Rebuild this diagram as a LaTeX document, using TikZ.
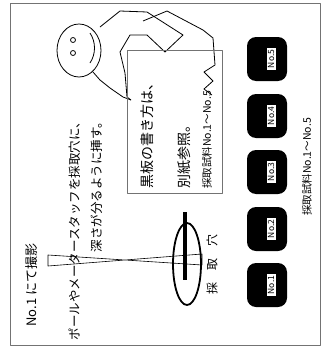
\documentclass[tikz,border=0pt]{standalone}
\usepackage{fontspec}
\setmainfont{Noto Sans CJK JP}

\tikzset{
    vtext/.style={rotate=90, inner sep=0pt},
    bottle/.style={rectangle, rounded corners=9pt, fill=black, minimum width=40pt, minimum height=44pt},
    tag/.style={rectangle, fill=white, rotate=90, inner xsep=2pt, inner ysep=1pt, minimum height=9pt, minimum width=22pt, font=\fontsize{8.5}{9}\selectfont},
    thin gray/.style={draw=black!55, line width=0.6pt},
}

\begin{document}
\begin{tikzpicture}[x=1pt, y=-1pt, line join=round]
    \useasboundingbox (0,0) rectangle (324,351);
    \draw[thin gray] (10,3) rectangle (320,345);

    \node[vtext, font=\fontsize{13}{15}\selectfont] (title) at (32,285) {No.1 にて撮影};
    \node[vtext, anchor=east, font=\fontsize{12.5}{14}\selectfont] (note1) at (75,116) {ポールやメータースタッフを採取穴に、};
    \node[vtext, anchor=east, font=\fontsize{12.5}{14}\selectfont] (note2) at (97,116) {深さが分るように挿す。};

    % pole, hole and rod
    \draw[line width=0.6pt] (48,255) -- (202,265) -- (202,254) -- (48,266) -- cycle;
    \draw[line width=1.8pt] (187,264) ellipse [x radius=14, y radius=41];
    \draw[line width=3.5pt] (185,212) -- (185,280);
    \node[vtext, font=\fontsize{12}{14}\selectfont] (hole) at (212,264) {採　取　穴};

    % person holding the board
    \draw[line width=0.8pt] (79,50.5) ellipse [x radius=22, y radius=26.5];
    \draw[line width=0.8pt] (73,40) circle [radius=2.5];
    \draw[line width=0.8pt] (73,53) circle [radius=2.5];
    \draw[line width=0.8pt] (90,33) .. controls (96,42) and (96,54) .. (90,63);
    \draw[line width=0.8pt] (100,27) -- (120,11) -- (147,12) -- (183,35) -- (165,52) -- (147,35)
        -- (130,35) -- (120,52) -- (125,73) -- (127,97) -- (131,100);
    \draw[line width=0.8pt] (93,72) -- (100,80) -- (110,88) -- (123,97) -- (131,100);
    \draw[line width=0.8pt] (143,21) -- (167,11) -- (203,30) -- (213,38) -- (215,65)
        -- (204,72) -- (213,81) -- (204,89) -- (212,95);

    % board
    \draw[thin gray] (127,50) rectangle (222,193);
    \node[vtext, anchor=west, font=\fontsize{14}{16}\selectfont] (line1) at (147,189) {黒板の書き方は、};
    \node[vtext, anchor=west, font=\fontsize{14}{16}\selectfont] (line2) at (184,189) {別紙参照。};
    \node[vtext, anchor=west, font=\fontsize{10.5}{12}\selectfont] (line3) at (207,189) {採取試料No.1～No.5};

    % samples
    \node[bottle] (s1) at (267,285) {};
    \node[bottle] (s2) at (267,229) {};
    \node[bottle] (s3) at (267,172) {};
    \node[bottle] (s4) at (267,116) {};
    \node[bottle] (s5) at (267,59) {};
    \node[tag] (t1) at (271,285) {No.1};
    \node[tag] (t2) at (271,229) {No.2};
    \node[tag] (t3) at (271,172) {No.3};
    \node[tag] (t4) at (271,116) {No.4};
    \node[tag] (t5) at (271,59) {No.5};
    \node[vtext, font=\fontsize{10.5}{12}\selectfont] (samples) at (307,167) {採取試料No.1～No.5};
\end{tikzpicture}
\end{document}
